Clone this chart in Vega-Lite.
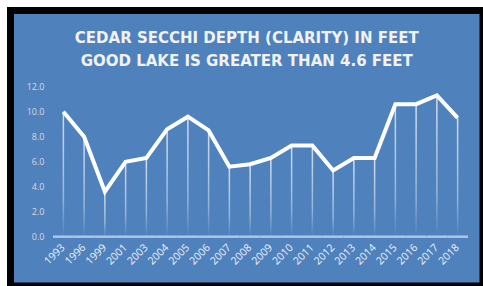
{
  "$schema": "https://vega.github.io/schema/vega-lite/v6.json",
  "width": 472.5,
  "height": 275.5,
  "autosize": {"type": "none"},
  "padding": {"left": 10.5, "top": 10.5, "right": 0, "bottom": 0},
  "background": "white",
  "config": {
    "view": {"fill": "#4F81BD", "stroke": "black", "strokeWidth": 7}
  },
  "title": {
    "text": ["CEDAR SECCHI DEPTH (CLARITY) IN FEET", "GOOD LAKE IS GREATER THAN 4.6 FEET"],
    "anchor": "middle",
    "frame": "group",
    "orient": "top",
    "baseline": "top",
    "offset": -58,
    "font": "DejaVu Sans",
    "fontSize": 15,
    "fontWeight": "bold",
    "color": "#F2F2F2",
    "lineHeight": 23
  },
  "data": {
    "values": [
      {"year": "1993", "depth": 10.0, "trend": 6.45},
      {"year": "1996", "depth": 8.0},
      {"year": "1999", "depth": 3.6},
      {"year": "2001", "depth": 6.0},
      {"year": "2003", "depth": 6.3},
      {"year": "2004", "depth": 8.6},
      {"year": "2005", "depth": 9.6},
      {"year": "2006", "depth": 8.5},
      {"year": "2007", "depth": 5.6},
      {"year": "2008", "depth": 5.8},
      {"year": "2009", "depth": 6.3},
      {"year": "2010", "depth": 7.3},
      {"year": "2011", "depth": 7.3},
      {"year": "2012", "depth": 5.3},
      {"year": "2013", "depth": 6.3},
      {"year": "2014", "depth": 6.3},
      {"year": "2015", "depth": 10.6},
      {"year": "2016", "depth": 10.6},
      {"year": "2017", "depth": 11.3},
      {"year": "2018", "depth": 9.5, "trend": 8.8}
    ]
  },
  "layer": [
    {
      "mark": {"type": "bar", "color": "#AFC4E4"},
      "encoding": {
        "x": {
          "field": "year",
          "type": "ordinal",
          "sort": "ascending",
          "scale": {"type": "band", "paddingInner": 0, "paddingOuter": 0, "range": [42.5, 457.5]},
          "axis": {
            "orient": "bottom",
            "offset": -49.3,
            "labelAngle": -45,
            "labelAlign": "right",
            "labelBaseline": "middle",
            "labelPadding": 9,
            "ticks": false,
            "domain": false,
            "grid": false,
            "title": null,
            "labelColor": "#EEF2F8",
            "labelFont": "Open Sans",
            "labelFontSize": 10.5
          }
        },
        "y": {
          "datum": 0.1,
          "type": "quantitative",
          "scale": {"domain": [-3.944, 18.096], "nice": false, "zero": false},
          "axis": {
            "values": [0, 2, 4, 6, 8, 10, 12],
            "format": ".1f",
            "offset": -35.5,
            "domain": false,
            "ticks": false,
            "grid": false,
            "title": null,
            "labelColor": "#D9D9D9",
            "labelFont": "Open Sans",
            "labelFontSize": 9,
            "labelPadding": 2
          }
        },
        "y2": {"datum": -0.1}
      }
    },
    {
      "mark": {
        "type": "bar",
        "width": 1.5,
        "fill": {
          "gradient": "linear",
          "x1": 0, "y1": 0, "x2": 0, "y2": 1,
          "stops": [
            {"offset": 0, "color": "rgba(255,255,255,0.75)"},
            {"offset": 0.7, "color": "rgba(255,255,255,0.4)"},
            {"offset": 1, "color": "rgba(255,255,255,0.0)"}
          ]
        }
      },
      "encoding": {
        "x": {"field": "year", "type": "ordinal", "bandPosition": 0.5},
        "y": {"field": "depth", "type": "quantitative"},
        "y2": {"datum": 0}
      }
    },
    {
      "mark": {"type": "line", "color": "white", "opacity": 0.5, "strokeWidth": 3},
      "encoding": {
        "x": {"field": "year", "type": "ordinal", "bandPosition": 0.5},
        "y": {"field": "trend", "type": "quantitative"}
      }
    },
    {
      "mark": {"type": "line", "color": "white", "strokeWidth": 4},
      "encoding": {
        "x": {"field": "year", "type": "ordinal", "bandPosition": 0.5},
        "y": {"field": "depth", "type": "quantitative"}
      }
    }
  ]
}
